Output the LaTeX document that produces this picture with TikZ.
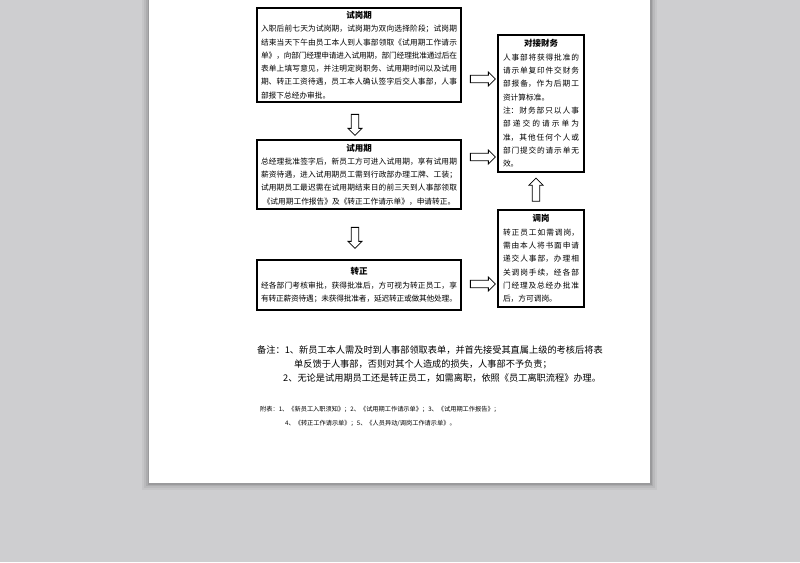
\documentclass[tikz,border=0pt]{standalone}
\usepackage{fontspec}
\setmainfont{Noto Sans CJK SC}
\usepackage{tikz}
\usetikzlibrary{shapes.arrows}
\definecolor{deskgray}{RGB}{206,206,208}
\XeTeXlinebreaklocale "zh"
\XeTeXlinebreakskip=0pt plus 3pt minus 0.6pt
\newcommand\jline[1]{\noindent{\leftskip=0pt\rightskip=0pt\parfillskip=0pt\relax #1\par}}
\newcommand\eline[1]{\noindent{\leftskip=0pt\rightskip=0pt #1\par}}
\newcommand\boxtitle[1]{{\centering\bfseries\fontsize{8.5}{13.3}\selectfont #1\par}}

\begin{document}
\begin{tikzpicture}[x=1pt, y=-1pt,
  flowbox/.style={draw, line width=1.2pt, inner xsep=4pt, inner ysep=1pt, text width=#1,
    font=\fontsize{7.7}{13.3}\selectfont},
  sidebox/.style={flowbox=76pt, inner xsep=5pt},
  blockarr/.style={single arrow, draw, line width=0.8pt, fill=white, inner sep=3.3pt,
    single arrow head extend=3.3pt},
  note/.style={anchor=west, inner sep=0pt, font=\fontsize{9.2}{11}\selectfont},
  attach/.style={anchor=west, inner sep=0pt, font=\fontsize{6.2}{8}\selectfont}]
  \fill[deskgray] (0,0) rectangle (800,562);
  \foreach \s/\o in {7/0.04, 5/0.05, 3/0.07, 1.5/0.1}
    \fill[black, opacity=\o] (149-\s,0) rectangle (650+\s,483+\s);
  \fill[white] (149,0) rectangle (650,483);

  \node[flowbox=196pt, minimum width=204pt, minimum height=94pt] (shigang) at (359,55) {%
    \tolerance=10000
    \boxtitle{试岗期}
    \jline{入职后前七天为试岗期，试岗期为双向选择阶段；试岗期}
    \jline{结束当天下午由员工本人到人事部领取《试用期工作请示}
    \jline{单》，向部门经理申请进入试用期，部门经理批准通过后在}
    \jline{表单上填写意见，并注明定岗职务、试用期时间以及试用}
    \jline{期、转正工资待遇，员工本人确认签字后交人事部，人事}
    \eline{部报下总经办审批。}};
  \node[flowbox=196pt, minimum width=204pt, minimum height=69pt] (shiyong) at (359,174.5) {%
    \tolerance=10000
    \boxtitle{试用期}
    \jline{总经理批准签字后，新员工方可进入试用期，享有试用期}
    \jline{薪资待遇，进入试用期员工需到行政部办理工牌、工装；}
    \jline{试用期员工最迟需在试用期结束日的前三天到人事部领取}
    {\centering《试用期工作报告》及《转正工作请示单》，申请转正。\par}};
  \node[flowbox=196pt, minimum width=204pt, minimum height=50pt] (zhuanzheng) at (359,285) {%
    \tolerance=10000
    \boxtitle{转正}
    \jline{经各部门考核审批，获得批准后，方可视为转正员工，享}
    \jline{有转正薪资待遇；未获得批准者，延迟转正或做其他处理。}};
  \node[sidebox, minimum width=86pt, minimum height=137pt] (duijie) at (541,103.5) {%
    \tolerance=10000
    \boxtitle{对接财务}
    \jline{人事部将获得批准的}
    \jline{请示单复印件交财务}
    \jline{部报备，作为后期工}
    \eline{资计算标准。}
    \jline{注：财务部只以人事}
    \jline{部递交的请示单为}
    \jline{准，其他任何个人或}
    \jline{部门提交的请示单无}
    \eline{效。}};
  \node[sidebox, minimum width=86pt, minimum height=97pt] (tiaogang) at (541,258.5) {%
    \tolerance=10000
    \boxtitle{调岗}
    \jline{转正员工如需调岗，}
    \jline{需由本人将书面申请}
    \jline{递交人事部，办理相}
    \jline{关调岗手续，经各部}
    \jline{门经理及总经办批准}
    \eline{后，方可调岗。}};

  \node[blockarr, minimum height=21pt, shape border rotate=270] (a12) at (355,123) {};
  \node[blockarr, minimum height=21pt, shape border rotate=270] (a23) at (355,236) {};
  \node[blockarr, minimum height=25pt] (a14) at (481,79) {};
  \node[blockarr, minimum height=25pt] (a24) at (481,157) {};
  \node[blockarr, minimum height=25pt] (a35) at (481,284) {};
  \node[blockarr, minimum height=23pt, shape border rotate=90] (a54) at (536,191.5) {};

  \node[note] (beizhu1) at (257,350) {备注：1、新员工本人需及时到人事部领取表单，并首先接受其直属上级的考核后将表};
  \node[note] (beizhu2) at (294,364) {单反馈于人事部，否则对其个人造成的损失，人事部不予负责；};
  \node[note] (beizhu3) at (283,378) {2、无论是试用期员工还是转正员工，如需离职，依照《员工离职流程》办理。};
  \node[attach] (fubiao1) at (260,409) {附表：1、《新员工入职须知》；2、《试用期工作请示单》；3、《试用期工作报告》；};
  \node[attach] (fubiao2) at (285,423) {4、《转正工作请示单》；5、《人员异动/调岗工作请示单》。};
\end{tikzpicture}
\end{document}
